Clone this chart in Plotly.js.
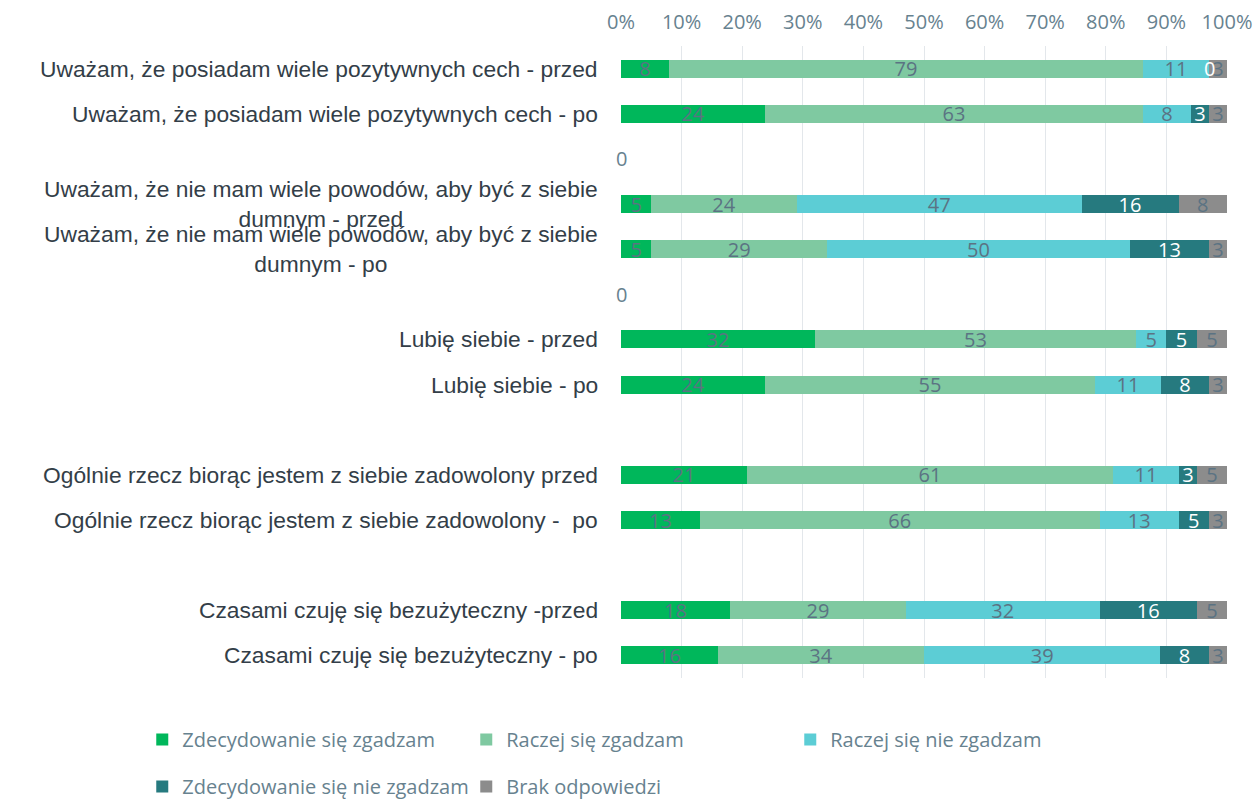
<!DOCTYPE html>
<html>
<head>
<meta charset="utf-8">
<script src="https://cdn.plot.ly/plotly-3.0.1.min.js"></script>
<style>html,body{margin:0;padding:0;background:#fff;}#chart{width:1258px;height:799px;}</style>
</head>
<body>
<div id="chart"></div>
<script>
// Categories (top to bottom); blank entries are empty separator rows
const categories = [
  "Uważam, że posiadam wiele pozytywnych cech - przed",
  "Uważam, że posiadam wiele pozytywnych cech - po",
  " ",
  "Uważam, że nie mam wiele powodów, aby być z siebie<br>dumnym - przed",
  "Uważam, że nie mam wiele powodów, aby być z siebie<br>dumnym - po",
  "  ",
  "Lubię siebie - przed",
  "Lubię siebie - po",
  "   ",
  "Ogólnie rzecz biorąc jestem z siebie zadowolony przed",
  "Ogólnie rzecz biorąc jestem z siebie zadowolony -  po",
  "    ",
  "Czasami czuję się bezużyteczny -przed",
  "Czasami czuję się bezużyteczny - po"
];

const seriesNames = [
  "Zdecydowanie się zgadzam",
  "Raczej się zgadzam",
  "Raczej się nie zgadzam",
  "Zdecydowanie się nie zgadzam",
  "Brak odpowiedzi"
];

const zdecydowanieZgadzam    = [8, 24, 0, 5, 5, 0, 32, 24, null, 21, 13, null, 18, 16];
const raczejZgadzam          = [79, 63, null, 24, 29, null, 53, 55, null, 61, 66, null, 29, 34];
const raczejNieZgadzam       = [11, 8, null, 47, 50, null, 5, 11, null, 11, 13, null, 32, 39];
const zdecydowanieNieZgadzam = [0, 3, null, 16, 13, null, 5, 8, null, 3, 5, null, 16, 8];
const brakOdpowiedzi         = [3, 3, null, 8, 3, null, 5, 3, null, 5, 3, null, 5, 3];

const seriesValues = [zdecydowanieZgadzam, raczejZgadzam, raczejNieZgadzam, zdecydowanieNieZgadzam, brakOdpowiedzi];
const seriesColors = ["#00b75b", "#7fc9a1", "#5ccdd5", "#267a7f", "#8c8c8c"];
const labelColors  = ["#5b7383", "#5b7383", "#5b7383", "#ffffff", "#5b7383"];
const legendGroups = ["legend", "legend", "legend", "legend2", "legend2"];

const tickColor = "#67828f";
const dataFont = "'Open Sans', Lato, sans-serif";

const traces = seriesValues.map((vals, i) => ({
  type: "bar",
  orientation: "h",
  name: seriesNames[i],
  y: categories,
  x: vals,
  text: vals.map(v => (v === null || v === 0) ? "" : String(v)),
  textposition: "inside",
  insidetextanchor: "middle",
  textangle: 0,
  constraintext: "none",
  textfont: {family: dataFont, size: 20, color: labelColors[i]},
  marker: {color: seriesColors[i], line: {width: 0}},
  legend: legendGroups[i],
  hoverinfo: "skip"
}));

const annotations = [];
// category labels, centered multi-line text right-aligned to the plot
categories.forEach(c => {
  if (c.trim() === "") return;
  annotations.push({
    xref: "paper", yref: "y", x: -0.034, y: c,
    xanchor: "right", yanchor: "middle", align: "center",
    text: c, showarrow: false,
    font: {family: "'Liberation Sans', Arial, sans-serif", size: 22.8, color: "#333e48"}
  });
});
// zero-value data labels (zero-width segments)
categories.forEach((c, r) => {
  let total = 0;
  seriesValues.forEach(s => { total += (s[r] || 0); });
  let cum = 0;
  seriesValues.forEach((s, i) => {
    const v = s[r];
    if (v === 0) {
      annotations.push({
        xref: "x", yref: "y", x: total > 0 ? cum / total * 100 : 0, y: c,
        xanchor: "center", yanchor: "middle", text: "0", showarrow: false,
        font: {family: dataFont, size: 20, color: total > 0 ? labelColors[i] : tickColor}
      });
    }
    cum += (v || 0);
  });
});

const legendFont = {family: dataFont, size: 20, color: tickColor};

const layout = {
  width: 1258, height: 799,
  margin: {l: 621, r: 31, t: 46, b: 121, pad: 0, autoexpand: false},
  paper_bgcolor: "#ffffff", plot_bgcolor: "#ffffff",
  barmode: "stack", barnorm: "percent", bargap: 0.6,
  showlegend: true,
  xaxis: {
    side: "top", range: [0, 100], dtick: 10, ticksuffix: "%",
    showgrid: true, gridcolor: "#e3e7eb", gridwidth: 1,
    zeroline: false, showline: false, ticks: "",
    ticklabelstandoff: 12,
    tickfont: {family: dataFont, size: 20, color: tickColor},
    fixedrange: true
  },
  yaxis: {
    type: "category", categoryorder: "array", categoryarray: categories,
    autorange: "reversed", showticklabels: false, showgrid: false,
    zeroline: false, showline: false, ticks: "", fixedrange: true
  },
  legend: {
    orientation: "h", x: -0.790, xanchor: "left", y: -0.0665, yanchor: "top",
    entrywidth: 279, entrywidthmode: "pixels",
    font: legendFont, bgcolor: "rgba(0,0,0,0)", traceorder: "normal"
  },
  legend2: {
    orientation: "h", x: -0.790, xanchor: "left", y: -0.1408, yanchor: "top",
    entrywidth: 279, entrywidthmode: "pixels",
    font: legendFont, bgcolor: "rgba(0,0,0,0)", traceorder: "normal"
  },
  annotations: annotations
};

Plotly.newPlot("chart", traces, layout, {displayModeBar: false, staticPlot: true});
</script>
</body>
</html>
